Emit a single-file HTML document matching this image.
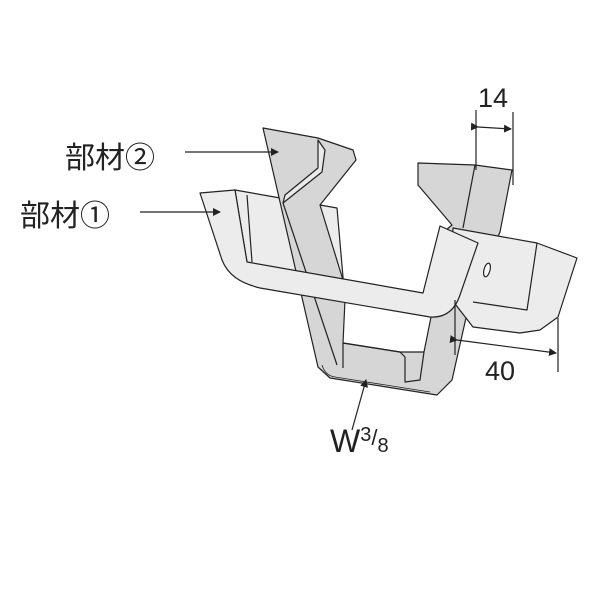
<!DOCTYPE html>
<html><head><meta charset="utf-8"><style>
html,body{margin:0;padding:0;background:#fff}
svg{display:block}
text{font-family:"Liberation Sans","Noto Sans CJK JP",sans-serif;fill:#222}
</style></head><body>
<svg width="600" height="600" viewBox="0 0 600 600" xmlns="http://www.w3.org/2000/svg">
<defs><marker id="a" markerWidth="8" markerHeight="8" refX="7" refY="4" orient="auto" markerUnits="userSpaceOnUse"><path d="M0,0 L8,4 L0,8 Z" fill="#222"/></marker></defs>
<g stroke="#222" stroke-width="1.2" stroke-linejoin="round">
<!-- part 1 back wall -->
<path d="M235,190 L337,208 L345,300 L247,262 Z" fill="#ececec"/>
<line x1="247" y1="195" x2="252" y2="262"/>
<!-- part 2 -->
<path d="M263,128 L318,138 L353,150 L356,160 L320,205 L343,280 L430,300 L440,235 L452,225 L418,185 L418,163 L475,165 L512,170 L500,232 L470,300 L452,380 L437,395 L330,378 L318,367 Z" fill="#d6d6d6"/>
<path d="M318,140 L325,150 L322,172 L283,203 L285,195 L318,168 Z" fill="#eaeaea"/>
<line x1="475" y1="165" x2="463" y2="228"/>
<line x1="283" y1="203" x2="337" y2="365"/>
<path d="M345,300 L432,312 L424,352 L400,352 L343,343 Z" fill="#fff"/>
<path d="M343,343 L400,352 L405,357 L405,382 L420,380 L424,352" fill="none"/>
<path d="M343,343 L343,368" fill="none"/>
<path d="M322,365 C324,372 328,376 335,377 L430,392" fill="none" stroke-width="0.8"/>
<!-- part 1 right band -->
<path d="M453,228 L537,243 L577,258 L558,317 L540,330 L520,333 L473,327 L452,300 Z" fill="#ececec"/>
<path d="M537,243 L527,310 L473,302" fill="none"/>
<ellipse cx="487" cy="270" rx="3" ry="7" fill="#fff" transform="rotate(15 487 270)"/>
<!-- part 1 front U -->
<path d="M200,193 L235,190 L247,262 L423,293 L440,226 L478,243 L460,295 C455,310 445,318 430,317 L260,288 C240,283 228,275 222,260 Z" fill="#ececec"/>
</g>
<!-- dimension lines -->
<g stroke="#222" stroke-width="1.2" fill="none">
<line x1="476" y1="110" x2="476" y2="170"/>
<line x1="513" y1="112" x2="513" y2="185"/>
<line x1="478" y1="127" x2="511" y2="129" marker-start="url(#a)" marker-end="url(#a)"/>
<line x1="455" y1="300" x2="455" y2="355"/>
<line x1="558" y1="318" x2="558" y2="372"/>
<line x1="457" y1="340" x2="556" y2="353" marker-start="url(#a)" marker-end="url(#a)"/>
<line x1="185" y1="152" x2="278" y2="152" marker-end="url(#a)"/>
<line x1="140" y1="212" x2="220" y2="212" marker-end="url(#a)"/>
<line x1="352" y1="430" x2="366" y2="380" marker-end="url(#a)"/>
</g>
<text x="478" y="107" font-size="27">14</text>
<text x="485" y="380" font-size="27">40</text>
<text x="65" y="168" font-size="30">部材②</text>
<text x="20" y="226" font-size="30">部材①</text>
<text x="330" y="452" font-size="32">W<tspan font-size="20" dy="-11">3</tspan><tspan font-size="22" dy="4">/</tspan><tspan font-size="20" dy="7">8</tspan></text>
</svg>
</body></html>
